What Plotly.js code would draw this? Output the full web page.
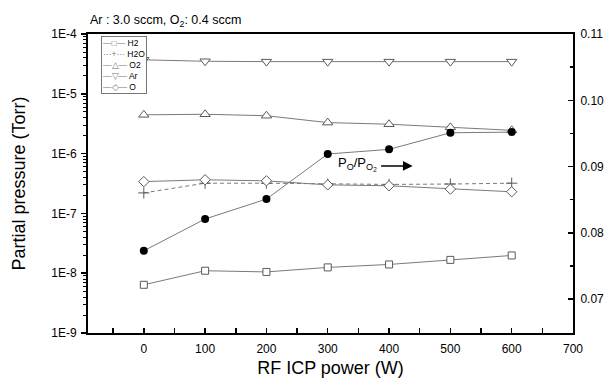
<!DOCTYPE html>
<html>
<head>
<meta charset="utf-8">
<script src="https://cdn.plot.ly/plotly-3.0.1.min.js"></script>
<style>html,body{margin:0;padding:0;background:#fff;}#chart{width:608px;height:385px;}</style>
</head>
<body>
<div id="chart"></div>
<script>
// ---- data ----
const powers = [0, 100, 200, 300, 400, 500, 600];
const h2  = [6.4e-9, 1.1e-8, 1.05e-8, 1.25e-8, 1.4e-8, 1.67e-8, 1.98e-8];
const h2o = [2.2e-7, 3.2e-7, 3.2e-7, 3.1e-7, 3.05e-7, 3.1e-7, 3.2e-7];
const o2  = [4.45e-6, 4.55e-6, 4.3e-6, 3.3e-6, 3.1e-6, 2.75e-6, 2.45e-6];
const ar  = [3.7e-5, 3.5e-5, 3.45e-5, 3.45e-5, 3.45e-5, 3.45e-5, 3.45e-5];
const oAt = [3.4e-7, 3.65e-7, 3.5e-7, 3.0e-7, 2.9e-7, 2.55e-7, 2.3e-7];
const ratio = [0.0773, 0.0821, 0.0851, 0.0919, 0.0926, 0.0951, 0.0952];
const seriesNames = ['H2', 'H2O', 'O2', 'Ar', 'O'];
const leftTickVals = [1e-9, 1e-8, 1e-7, 1e-6, 1e-5, 1e-4];
const leftTickText = ['1E-9', '1E-8', '1E-7', '1E-6', '1E-5', '1E-4'];
const titleText = 'Ar : 3.0 sccm, O<sub>2</sub>: 0.4 sccm';
const ratioLabel = 'P<sub>O</sub>/P<sub>O<sub>2</sub></sub>';
const xTitle = 'RF ICP power (W)';
const yTitle = 'Partial pressure (Torr)';

// minor log ticks (2..9 within each decade)
const minorLog = [];
for (let e = -9; e < -4; e++) for (let m = 2; m <= 9; m++) minorLog.push(m * Math.pow(10, e));

const lineCol = '#7a7a7a';
const mkCol = '#5a5a5a';
const styles = [
  {symbol: 'square', size: 7, dash: 'solid', glyph: '\u2014\u25A1\u2014'},
  {symbol: 'cross-thin-open', size: 8, dash: '4px,3px', glyph: '\u00B7\u00B7\u00B7+\u00B7\u00B7\u00B7'},
  {symbol: 'triangle-up', size: 9, dash: 'solid', glyph: '\u2014\u25B3\u2014'},
  {symbol: 'triangle-down', size: 9, dash: 'solid', glyph: '\u2014\u25BD\u2014'},
  {symbol: 'diamond', size: 8, dash: 'solid', glyph: '\u2014\u25C7\u2014'}
];
const seriesValues = [h2, h2o, o2, ar, oAt];

const traces = seriesValues.map((vals, i) => {
  const st = styles[i];
  const isCross = st.symbol === 'cross-thin-open';
  return {
    x: powers, y: vals, name: seriesNames[i], type: 'scatter', mode: 'lines+markers',
    line: {color: lineCol, width: 1, dash: st.dash},
    marker: {symbol: st.symbol, size: st.size, color: isCross ? mkCol : '#fff',
             line: {color: mkCol, width: 1}},
    xaxis: 'x', yaxis: 'y', showlegend: false
  };
});
traces.push({
  x: powers, y: ratio, name: 'PO/PO2', type: 'scatter', mode: 'lines+markers',
  line: {color: lineCol, width: 1},
  marker: {symbol: 'circle', size: 8, color: '#000'},
  xaxis: 'x', yaxis: 'y2', showlegend: false
});

const legendText = seriesNames.map((n, i) =>
  '<span style="color:#777">' + styles[i].glyph + '</span> ' + n).join('<br>');

const ff = 'Liberation Sans, Arial, sans-serif';
function f(size) { return {family: ff, size: size, color: '#000'}; }

const layout = {
  width: 608, height: 385,
  margin: {l: 88, r: 35, t: 34, b: 52, pad: 0},
  paper_bgcolor: '#fff', plot_bgcolor: '#fff',
  font: f(12),
  showlegend: false,
  title: {text: titleText, font: f(12.5),
          xref: 'paper', x: 0.004, xanchor: 'left', yref: 'container', y: 0.949, yanchor: 'middle'},
  xaxis: {
    range: [-91, 700], tickmode: 'linear', tick0: 0, dtick: 100,
    ticks: 'inside', ticklen: 5, tickwidth: 1.5, tickcolor: '#000',
    minor: {dtick: 50, tick0: 0, ticks: 'inside', ticklen: 5, tickwidth: 1.5, tickcolor: '#000', showgrid: false},
    showline: true, linewidth: 2, linecolor: '#000', mirror: true,
    showgrid: false, zeroline: false, ticklabelstandoff: 4,
    tickfont: f(12),
    title: {text: xTitle, font: f(18), standoff: 6},
    automargin: false
  },
  yaxis: {
    type: 'log', range: [-9, -4], tickmode: 'array', tickvals: leftTickVals, ticktext: leftTickText,
    ticks: 'outside', ticklen: 5, tickwidth: 1.5, tickcolor: '#000',
    minor: {tickmode: 'array', tickvals: minorLog, ticks: 'outside', ticklen: 3, tickwidth: 1, tickcolor: '#000', showgrid: false},
    showline: true, linewidth: 2, linecolor: '#000',
    showgrid: false, zeroline: false, ticklabelstandoff: 2,
    tickfont: f(12),
    title: {text: yTitle, font: f(18), standoff: 21},
    automargin: false
  },
  yaxis2: {
    overlaying: 'y', side: 'right', range: [0.0649, 0.11],
    tickmode: 'linear', tick0: 0, dtick: 0.01, tickformat: '.2f',
    ticks: 'inside', ticklen: 5, tickwidth: 1.5, tickcolor: '#000',
    minor: {dtick: 0.005, tick0: 0, ticks: 'inside', ticklen: 3, tickwidth: 1.5, tickcolor: '#000', showgrid: false},
    showline: true, linewidth: 2, linecolor: '#000',
    showgrid: false, zeroline: false, ticklabelstandoff: 3,
    tickfont: f(12),
    automargin: false
  },
  annotations: [
    {text: legendText, xref: 'paper', yref: 'paper', x: 0.026, y: 0.993, xanchor: 'left', yanchor: 'top',
     align: 'left', showarrow: false, font: f(8.5), bgcolor: '#fff', bordercolor: '#777', borderwidth: 1, borderpad: 1},
    {text: ratioLabel, xref: 'x', yref: 'y', x: 313, y: -6.174, xanchor: 'left', yanchor: 'middle',
     showarrow: false, font: f(13)},
    {text: '', xref: 'x', yref: 'y', x: 438.5, y: -6.207, ax: -33, ay: 0,
     showarrow: true, arrowhead: 2, arrowsize: 1.5, arrowwidth: 1.3, arrowcolor: '#000'}
  ]
};

Plotly.newPlot('chart', traces, layout, {staticPlot: true, displayModeBar: false});
</script>
</body>
</html>
